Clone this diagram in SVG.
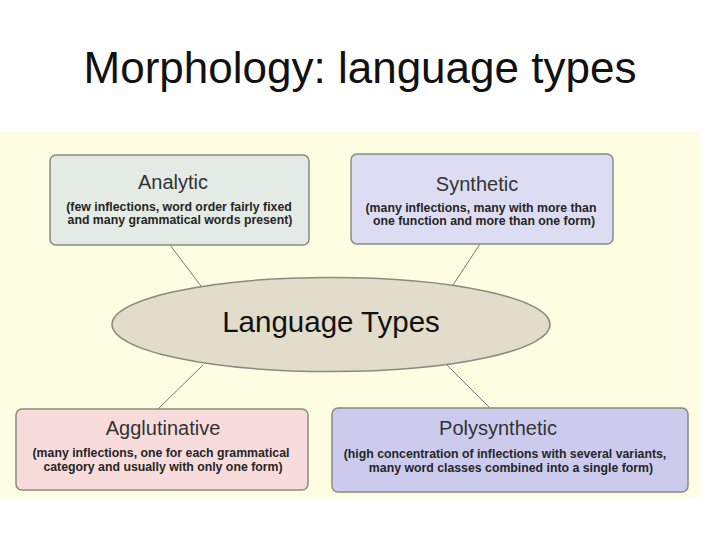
<svg xmlns="http://www.w3.org/2000/svg" width="720" height="539" viewBox="0 0 720 539">
<style>
.box{stroke:#8a8a80;stroke-width:1.5}
.ttl{font-family:"Liberation Sans",Arial,sans-serif;font-size:20px;fill:#333;text-anchor:middle}
.sub{font-family:"Liberation Sans",Arial,sans-serif;font-size:12.3px;font-weight:bold;fill:#262626;text-anchor:middle}
.con{stroke:#777;stroke-width:1;fill:none}
</style>
<rect x="0" y="0" width="720" height="539" fill="#ffffff"/>
<text x="360" y="83" font-family="'Liberation Sans',Arial,sans-serif" font-size="44" fill="#111" text-anchor="middle">Morphology: language types</text>
<rect x="0" y="132" width="700" height="365" fill="#fdfde2"/>
<g id="connectors">
<line class="con" x1="170" y1="245" x2="201" y2="286"/>
<line class="con" x1="480" y1="244" x2="453" y2="285"/>
<line class="con" x1="203" y1="365" x2="158" y2="409"/>
<line class="con" x1="447" y1="365" x2="490" y2="408"/>
</g>
<g id="analytic">
<rect class="box" x="50" y="155" width="259" height="90" rx="6" fill="#e4ebe5"/>
<text class="ttl" x="173" y="189">Analytic</text>
<text class="sub" x="179" y="211">(few inflections, word order fairly fixed</text>
<text class="sub" x="180" y="224">and many grammatical words present)</text>
</g>
<g id="synthetic">
<rect class="box" x="351" y="154" width="262" height="90" rx="6" fill="#dcdcf2"/>
<text class="ttl" x="477" y="191">Synthetic</text>
<text class="sub" x="481" y="212">(many inflections, many with more than</text>
<text class="sub" x="484" y="225">one function and more than one form)</text>
</g>
<g id="language-types">
<ellipse cx="331" cy="324.5" rx="219" ry="47" fill="#e2dccb" stroke="#8a8a80" stroke-width="1.5"/>
<text x="331" y="332" font-family="'Liberation Sans',Arial,sans-serif" font-size="29.5" fill="#111" text-anchor="middle">Language Types</text>
</g>
<g id="agglutinative">
<rect class="box" x="16" y="409" width="292" height="81" rx="6" fill="#f8dcdc"/>
<text class="ttl" x="163" y="435">Agglutinative</text>
<text class="sub" x="161" y="457">(many inflections, one for each grammatical</text>
<text class="sub" x="163" y="471">category and usually with only one form)</text>
</g>
<g id="polysynthetic">
<rect class="box" x="332" y="408" width="356" height="84" rx="6" fill="#cccbee"/>
<text class="ttl" x="498" y="435">Polysynthetic</text>
<text class="sub" x="505" y="458">(high concentration of inflections with several variants,</text>
<text class="sub" x="511" y="472">many word classes combined into a single form)</text>
</g>
</svg>
